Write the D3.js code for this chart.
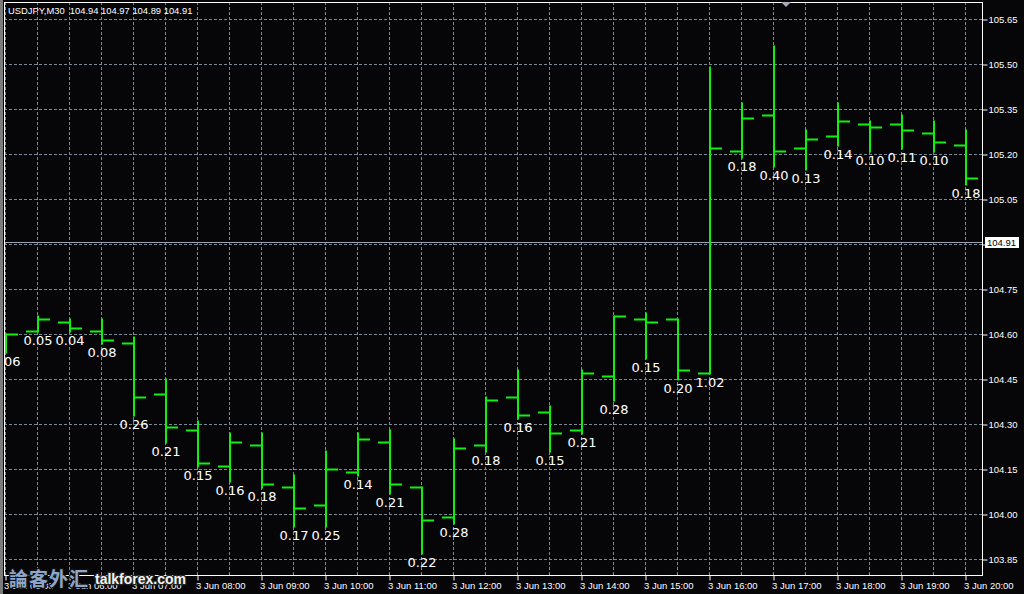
<!DOCTYPE html>
<html>
<head>
<meta charset="utf-8">
<script src="https://cdn.jsdelivr.net/npm/d3@7"></script>
<style>
  html, body { margin: 0; padding: 0; background: #060609; }
  svg { display: block; }
</style>
</head>
<body>
<svg id="chart" width="1024" height="594"></svg>
<script>
// ---- data (USDJPY, M30, 3 Jun) ----
const times  = ["05:00","05:30","06:00","06:30","07:00","07:30","08:00","08:30","09:00","09:30",
                "10:00","10:30","11:00","11:30","12:00","12:30","13:00","13:30","14:00","14:30",
                "15:00","15:30","16:00","16:30","17:00","17:30","18:00","18:30","19:00","19:30","20:00"];
const opens  = [104.56,104.61,104.64,104.61,104.57,104.40,104.28,104.16,104.23,104.09,
                104.03,104.14,104.24,104.09,103.99,104.23,104.39,104.34,104.28,104.46,
                104.65,104.65,104.47,105.21,105.33,105.22,105.26,105.30,105.30,105.27,105.23];
const highs  = [104.60,104.66,104.65,104.65,104.59,104.45,104.31,104.27,104.27,104.13,
                104.21,104.27,104.28,104.09,104.25,104.39,104.48,104.36,104.48,104.66,
                104.67,104.65,105.49,105.37,105.56,105.28,105.37,105.31,105.33,105.31,105.28];
const lows   = [104.54,104.61,104.61,104.57,104.33,104.24,104.16,104.11,104.09,103.96,
                103.96,104.13,104.07,103.87,103.97,104.21,104.32,104.21,104.27,104.38,
                104.52,104.45,104.47,105.19,105.16,105.15,105.23,105.21,105.22,105.21,105.10];
const closes = [104.60,104.65,104.62,104.58,104.39,104.29,104.17,104.24,104.10,104.02,
                104.15,104.25,104.10,103.98,104.22,104.38,104.33,104.27,104.47,104.66,
                104.64,104.48,105.22,105.32,105.21,105.25,105.31,105.29,105.28,105.24,105.12];
const rangeLabels = ["0.06","0.05","0.04","0.08","0.26","0.21","0.15","0.16","0.18","0.17",
                     "0.25","0.14","0.21","0.22","0.28","0.18","0.16","0.15","0.21","0.28",
                     "0.15","0.20","1.02","0.18","0.40","0.13","0.14","0.10","0.11","0.10","0.18"];
const priceTicks = [105.65,105.50,105.35,105.20,105.05,104.90,104.75,104.60,104.45,104.30,104.15,104.00,103.85];
const timeTicks  = ["05:00","06:00","07:00","08:00","09:00","10:00","11:00","12:00","13:00","14:00",
                    "15:00","16:00","17:00","18:00","19:00","20:00"];
const titleText  = "USDJPY,M30  104.94 104.97 104.89 104.91";
const currentPrice = 104.91;

// ---- layout ----
const W = 1024, H = 594;
const plot = { left: 4, top: 2, right: 982, bottom: 575 };
const parse = s => new Date(2020, 5, 3, +s.slice(0,2), +s.slice(3,5));

const x = d3.scaleTime()
  .domain([parse("05:00"), parse("20:00")])
  .range([5.5, 965.5]);
const y = d3.scaleLinear()
  .domain([103.85, 105.65])
  .range([559.5, 19.5]);

const svg = d3.select("#chart");
const green = "#10f010";
const gridColor = "#7a8898";

svg.append("rect").attr("width", W).attr("height", H).attr("fill", "#060609");

svg.append("defs").append("clipPath").attr("id", "clip")
  .append("rect")
  .attr("x", plot.left + 1).attr("y", plot.top + 1)
  .attr("width", plot.right - plot.left - 1).attr("height", plot.bottom - plot.top - 1);

// grid
const grid = svg.append("g").attr("clip-path", "url(#clip)");
grid.selectAll("line.h").data(priceTicks).join("line")
  .attr("x1", plot.left).attr("x2", plot.right)
  .attr("y1", d => Math.round(y(d) - 0.5) + 0.5).attr("y2", d => Math.round(y(d) - 0.5) + 0.5)
  .attr("stroke", gridColor).attr("stroke-width", 1).attr("stroke-dasharray", "3,2");
grid.selectAll("line.v").data(times).join("line")
  .attr("x1", d => x(parse(d))).attr("x2", d => x(parse(d)))
  .attr("y1", plot.top).attr("y2", plot.bottom)
  .attr("stroke", gridColor).attr("stroke-width", 1).attr("stroke-dasharray", "3,2");

// current price line
grid.append("line")
  .attr("x1", plot.left).attr("x2", plot.right)
  .attr("y1", Math.round(y(currentPrice)) + 0.5).attr("y2", Math.round(y(currentPrice)) + 0.5)
  .attr("stroke", "#9aa6b2").attr("stroke-width", 1);

// bars
const bars = svg.append("g").attr("clip-path", "url(#clip)");
const idx = d3.range(times.length);
const bx = i => x(parse(times[i])) + 0.5;
bars.selectAll("line.hl").data(idx).join("line")
  .attr("x1", bx).attr("x2", bx)
  .attr("y1", i => y(highs[i]) - 1).attr("y2", i => y(lows[i]) + 1)
  .attr("stroke", green).attr("stroke-width", 2);
bars.selectAll("line.o").data(idx).join("line")
  .attr("x1", i => bx(i) - 12).attr("x2", i => bx(i))
  .attr("y1", i => y(opens[i])).attr("y2", i => y(opens[i]))
  .attr("stroke", green).attr("stroke-width", 2);
bars.selectAll("line.c").data(idx).join("line")
  .attr("x1", i => bx(i)).attr("x2", i => bx(i) + 12)
  .attr("y1", i => y(closes[i])).attr("y2", i => y(closes[i]))
  .attr("stroke", green).attr("stroke-width", 2);
bars.selectAll("text.rl").data(idx).join("text")
  .attr("x", i => bx(i)).attr("y", i => y(lows[i]) + 13)
  .attr("text-anchor", "middle")
  .attr("font-family", "DejaVu Sans").attr("font-size", 13)
  .attr("fill", "#ffffff")
  .text(i => rangeLabels[i]);

// frame
svg.append("rect").attr("x", 0).attr("y", 0).attr("width", 3).attr("height", H).attr("fill", "#7c7c7c");
svg.append("rect")
  .attr("x", plot.left + 0.5).attr("y", plot.top + 0.5)
  .attr("width", plot.right - plot.left).attr("height", plot.bottom - plot.top)
  .attr("fill", "none").attr("stroke", "#ffffff").attr("stroke-width", 1);

// right axis
const yAxis = d3.axisRight(y).tickValues(priceTicks).tickSize(5).tickPadding(1)
  .tickFormat(d3.format(".2f"));
const ya = svg.append("g").attr("transform", `translate(${plot.right + 0.5},0)`).call(yAxis);
ya.select(".domain").remove();
ya.selectAll(".tick line").attr("stroke", "#ffffff");
ya.selectAll(".tick text").attr("fill", "#ffffff")
  .attr("font-family", "Liberation Sans").attr("font-size", 9.5);

// bottom axis
const xAxis = d3.axisBottom(x).tickValues(timeTicks.map(parse)).tickSize(5)
  .tickFormat(d3.timeFormat("3 Jun %H:%M"));
const xa = svg.append("g").attr("transform", `translate(0,${plot.bottom + 0.5})`).call(xAxis);
xa.select(".domain").remove();
xa.selectAll(".tick line").attr("stroke", "#ffffff");
xa.selectAll(".tick text").attr("fill", "#ffffff")
  .attr("font-family", "Liberation Sans").attr("font-size", 9.5)
  .attr("text-anchor", "start").attr("x", -2).attr("y", 13).attr("dy", 0);

// current price tag
svg.append("rect").attr("x", 985).attr("y", Math.round(y(currentPrice)) - 5)
  .attr("width", 34).attr("height", 11).attr("fill", "#ffffff");
svg.append("text").attr("x", 987).attr("y", Math.round(y(currentPrice)) + 4)
  .attr("font-family", "Liberation Sans").attr("font-size", 9.5).attr("fill", "#000000")
  .text(d3.format(".2f")(currentPrice));

// title
svg.append("text").attr("x", 8).attr("y", 13.5)
  .attr("font-family", "Liberation Sans").attr("font-size", 9.4).attr("fill", "#ffffff")
  .attr("xml:space", "preserve").style("white-space", "pre")
  .text(titleText);

// shift marker
svg.append("path").attr("d", "M781,2 L791,2 L786,7 Z").attr("fill", "#a8aab4");

// watermark
const wm = svg.append("g");
wm.append("text").attr("x", 9).attr("y", 586)
  .attr("font-family", "Noto Sans CJK SC").attr("font-weight", "bold").attr("font-size", 19)
  .attr("fill", "#8fa6c8").attr("stroke", "#111111").attr("stroke-width", 2.5)
  .attr("paint-order", "stroke").attr("letter-spacing", 1)
  .text("論客外汇");
wm.append("text").attr("x", 95).attr("y", 584)
  .attr("font-family", "Liberation Sans").attr("font-weight", "bold").attr("font-size", 14)
  .attr("fill", "#f4f4f4").attr("stroke", "#222222").attr("stroke-width", 2.5)
  .attr("paint-order", "stroke")
  .text("talkforex.com");
</script>
</body>
</html>
